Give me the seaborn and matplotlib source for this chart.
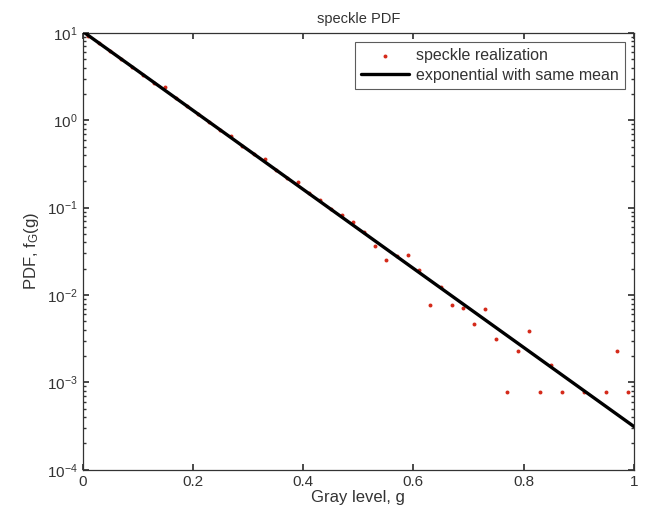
import matplotlib
matplotlib.use("Agg")
import matplotlib.pyplot as plt
import seaborn as sns
import pandas as pd

# histogram bin centres (gray level) and estimated PDF values
gray_level = [0.01, 0.03, 0.05, 0.07, 0.09, 0.11, 0.13, 0.15, 0.17, 0.19,
              0.21, 0.23, 0.25, 0.27, 0.29, 0.31, 0.33, 0.35, 0.37, 0.39,
              0.41, 0.43, 0.45, 0.47, 0.49, 0.51, 0.53, 0.55, 0.57, 0.59,
              0.61, 0.63, 0.65, 0.67, 0.69, 0.71, 0.73, 0.75, 0.77, 0.79,
              0.81, 0.83, 0.85, 0.87, 0.91, 0.95, 0.97, 0.99]
speckle_pdf = [9.3, 7.6, 6.2, 5.0, 4.1, 3.3, 2.7, 2.4, 1.78, 1.45,
               1.17, 0.95, 0.77, 0.66, 0.51, 0.41, 0.36, 0.27, 0.22, 0.195,
               0.148, 0.123, 0.097, 0.083, 0.068, 0.052, 0.036, 0.025, 0.028, 0.029,
               0.0195, 0.0077, 0.0124, 0.0077, 0.0071, 0.0047, 0.0069, 0.0031, 0.00078, 0.0023,
               0.0039, 0.00078, 0.0016, 0.00078, 0.00078, 0.00078, 0.0023, 0.00078]

# exponential curve
curve_g = [0.0, 0.2, 0.4, 0.6, 0.8, 1.0]
curve_pdf = [10.4, 1.30, 0.162, 0.0202, 0.00252, 0.000314]

x_ticks = [0, 0.2, 0.4, 0.6, 0.8, 1]
x_tick_labels = ["0", "0.2", "0.4", "0.6", "0.8", "1"]

sns.set_theme(style="ticks")
plt.rcParams["font.family"] = ["Liberation Sans", "DejaVu Sans"]
plt.rcParams["mathtext.default"] = "regular"
plt.rcParams["axes.unicode_minus"] = False

fig = plt.figure(figsize=(6.46, 5.14), dpi=100)
ax = fig.add_axes([0.128, 0.086, 0.853, 0.850])

pts = pd.DataFrame({"g": gray_level, "f": speckle_pdf})
crv = pd.DataFrame({"g": curve_g, "f": curve_pdf})

sns.scatterplot(data=pts, x="g", y="f", ax=ax, color="#d42a1a", s=8, linewidth=0,
                label="speckle realization", zorder=2)
sns.lineplot(data=crv, x="g", y="f", ax=ax, color="black", linewidth=2.4,
             label="exponential with same mean", zorder=3)

ax.set_yscale("log")
ax.set_xlim(0, 1)
ax.set_ylim(1e-4, 1e1)
ax.set_xticks(x_ticks)
ax.set_xticklabels(x_tick_labels)

ax.tick_params(which="both", direction="in", top=True, right=True,
               labelsize=11, color="#333333", labelcolor="#333333")
ax.tick_params(which="major", length=4)
ax.tick_params(which="minor", length=2)
for sp in ax.spines.values():
    sp.set_linewidth(0.9)
    sp.set_color("#333333")

ax.set_xlabel("Gray level, g", fontsize=12, labelpad=1, color="#333333")
ax.set_ylabel("PDF, f$_G$(g)", fontsize=12, labelpad=4, color="#333333")
ax.set_title("speckle PDF", fontsize=10.5, pad=7, color="#333333")

leg = ax.legend(loc="upper right", fontsize=11.5, frameon=True, fancybox=False,
                edgecolor="#333333", handlelength=3.0, borderaxespad=0.55,
                borderpad=0.4, labelspacing=0.3, markerscale=1.0,
                handletextpad=0.4)
leg.get_frame().set_linewidth(0.8)
for t in leg.get_texts():
    t.set_color("#333333")

fig.savefig("out.png", dpi=100)
